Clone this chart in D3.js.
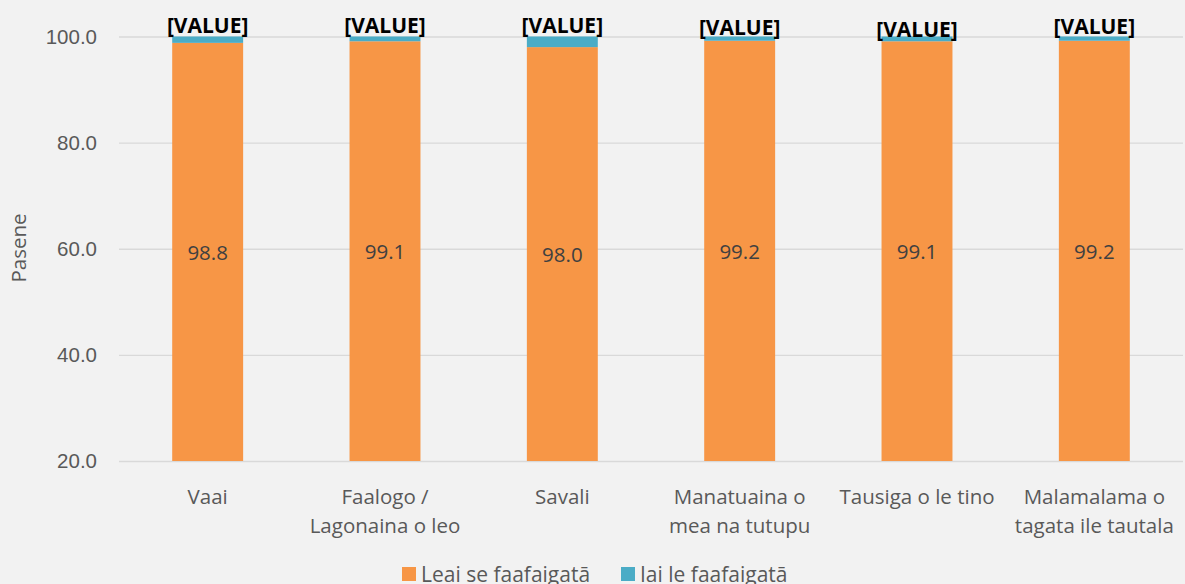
<!DOCTYPE html>
<html>
<head>
<meta charset="utf-8">
<script src="https://cdnjs.cloudflare.com/ajax/libs/d3/7.8.5/d3.min.js"></script>
<style>
body { margin: 0; background: #f2f2f2; }
svg { display: block; font-family: "Open Sans", sans-serif; }
.tick text { fill: #595959; font-size: 20.5px; }
</style>
</head>
<body>
<svg width="1185" height="584"></svg>
<script>
var categories = [
  ["Vaai"],
  ["Faalogo /", "Lagonaina o leo"],
  ["Savali"],
  ["Manatuaina o", "mea na tutupu"],
  ["Tausiga o le tino"],
  ["Malamalama o", "tagata ile tautala"]
];
var noDifficulty = [98.8, 99.1, 98.0, 99.2, 99.1, 99.2];
var withDifficulty = [1.2, 0.9, 2.0, 0.8, 0.9, 0.8];
var seriesNames = ["Leai se faafaigatā", "Iai le faafaigatā"];
var yTicks = [20, 40, 60, 80, 100];

var colors = ["#f79646", "#4bacc6"];
var svg = d3.select("svg");

var x = d3.scaleBand()
  .domain(d3.range(categories.length))
  .range([119, 1183]);
var barW = x.bandwidth() * 0.4;
var y = d3.scaleLinear()
  .domain([20, 100])
  .range([461, 36.5]);

// grid + y labels
var yAxis = svg.append("g")
  .attr("transform", "translate(119,0)")
  .call(d3.axisLeft(y).tickValues(yTicks).tickSize(-1064).tickPadding(22)
    .tickFormat(d3.format(".1f")));
yAxis.select(".domain").remove();
yAxis.selectAll("line").attr("stroke", "#d9d9d9").attr("stroke-width", 1.3);

svg.append("text")
  .attr("transform", "translate(26,248) rotate(-90)")
  .attr("text-anchor", "middle")
  .attr("fill", "#595959")
  .attr("font-size", 20.5)
  .text("Pasene");

var rows = noDifficulty.map(function (v, i) { return [v, withDifficulty[i]]; });

// orange
svg.selectAll(".a").data(rows).enter().append("rect")
  .attr("x", function (d, i) { return x(i) + x.bandwidth() / 2 - barW / 2; })
  .attr("width", barW)
  .attr("y", function (d) { return y(d[0]); })
  .attr("height", function (d) { return y(20) - y(d[0]); })
  .attr("fill", colors[0]);
// blue
svg.selectAll(".b").data(rows).enter().append("rect")
  .attr("x", function (d, i) { return x(i) + x.bandwidth() / 2 - barW / 2; })
  .attr("width", barW)
  .attr("y", function (d) { return y(d[0] + d[1]); })
  .attr("height", function (d) { return y(d[0]) - y(d[0] + d[1]); })
  .attr("fill", colors[1]);

// value labels
svg.selectAll(".vl").data(rows).enter().append("text")
  .attr("x", function (d, i) { return x(i) + x.bandwidth() / 2; })
  .attr("y", function (d) { return (y(20) + y(d[0])) / 2 + 8; })
  .attr("text-anchor", "middle")
  .attr("fill", "#404040")
  .attr("font-size", 20.5)
  .text(function (d) { return d3.format(".1f")(d[0]); });

var topNudge = [0, 0, 0, 2, 4, 1];
svg.selectAll(".tl").data(rows).enter().append("text")
  .attr("x", function (d, i) { return x(i) + x.bandwidth() / 2; })
  .attr("y", function (d, i) { return y(100) - 4 + topNudge[i]; })
  .attr("text-anchor", "middle")
  .attr("fill", "#000")
  .attr("font-weight", "bold")
  .attr("font-size", 21)
  .text("[VALUE]");

// category labels
var cl = svg.selectAll(".cl").data(categories).enter().append("text")
  .attr("text-anchor", "middle")
  .attr("fill", "#595959")
  .attr("font-size", 20.5)
  .attr("transform", function (d, i) { return "translate(" + (x(i) + x.bandwidth() / 2) + ",0)"; });
cl.selectAll("tspan").data(function (d) { return d; }).enter().append("tspan")
  .attr("x", 0)
  .attr("y", function (d, j) { return 504 + j * 29; })
  .text(function (d) { return d; });

// legend
var legX = [402, 621];
seriesNames.forEach(function (n, i) {
  svg.append("rect").attr("x", legX[i]).attr("y", 567).attr("width", 14).attr("height", 14).attr("fill", colors[i]);
  svg.append("text").attr("x", legX[i] + 19).attr("y", 582)
    .attr("fill", "#595959").attr("font-size", 21).text(n);
});
</script>
</body>
</html>
